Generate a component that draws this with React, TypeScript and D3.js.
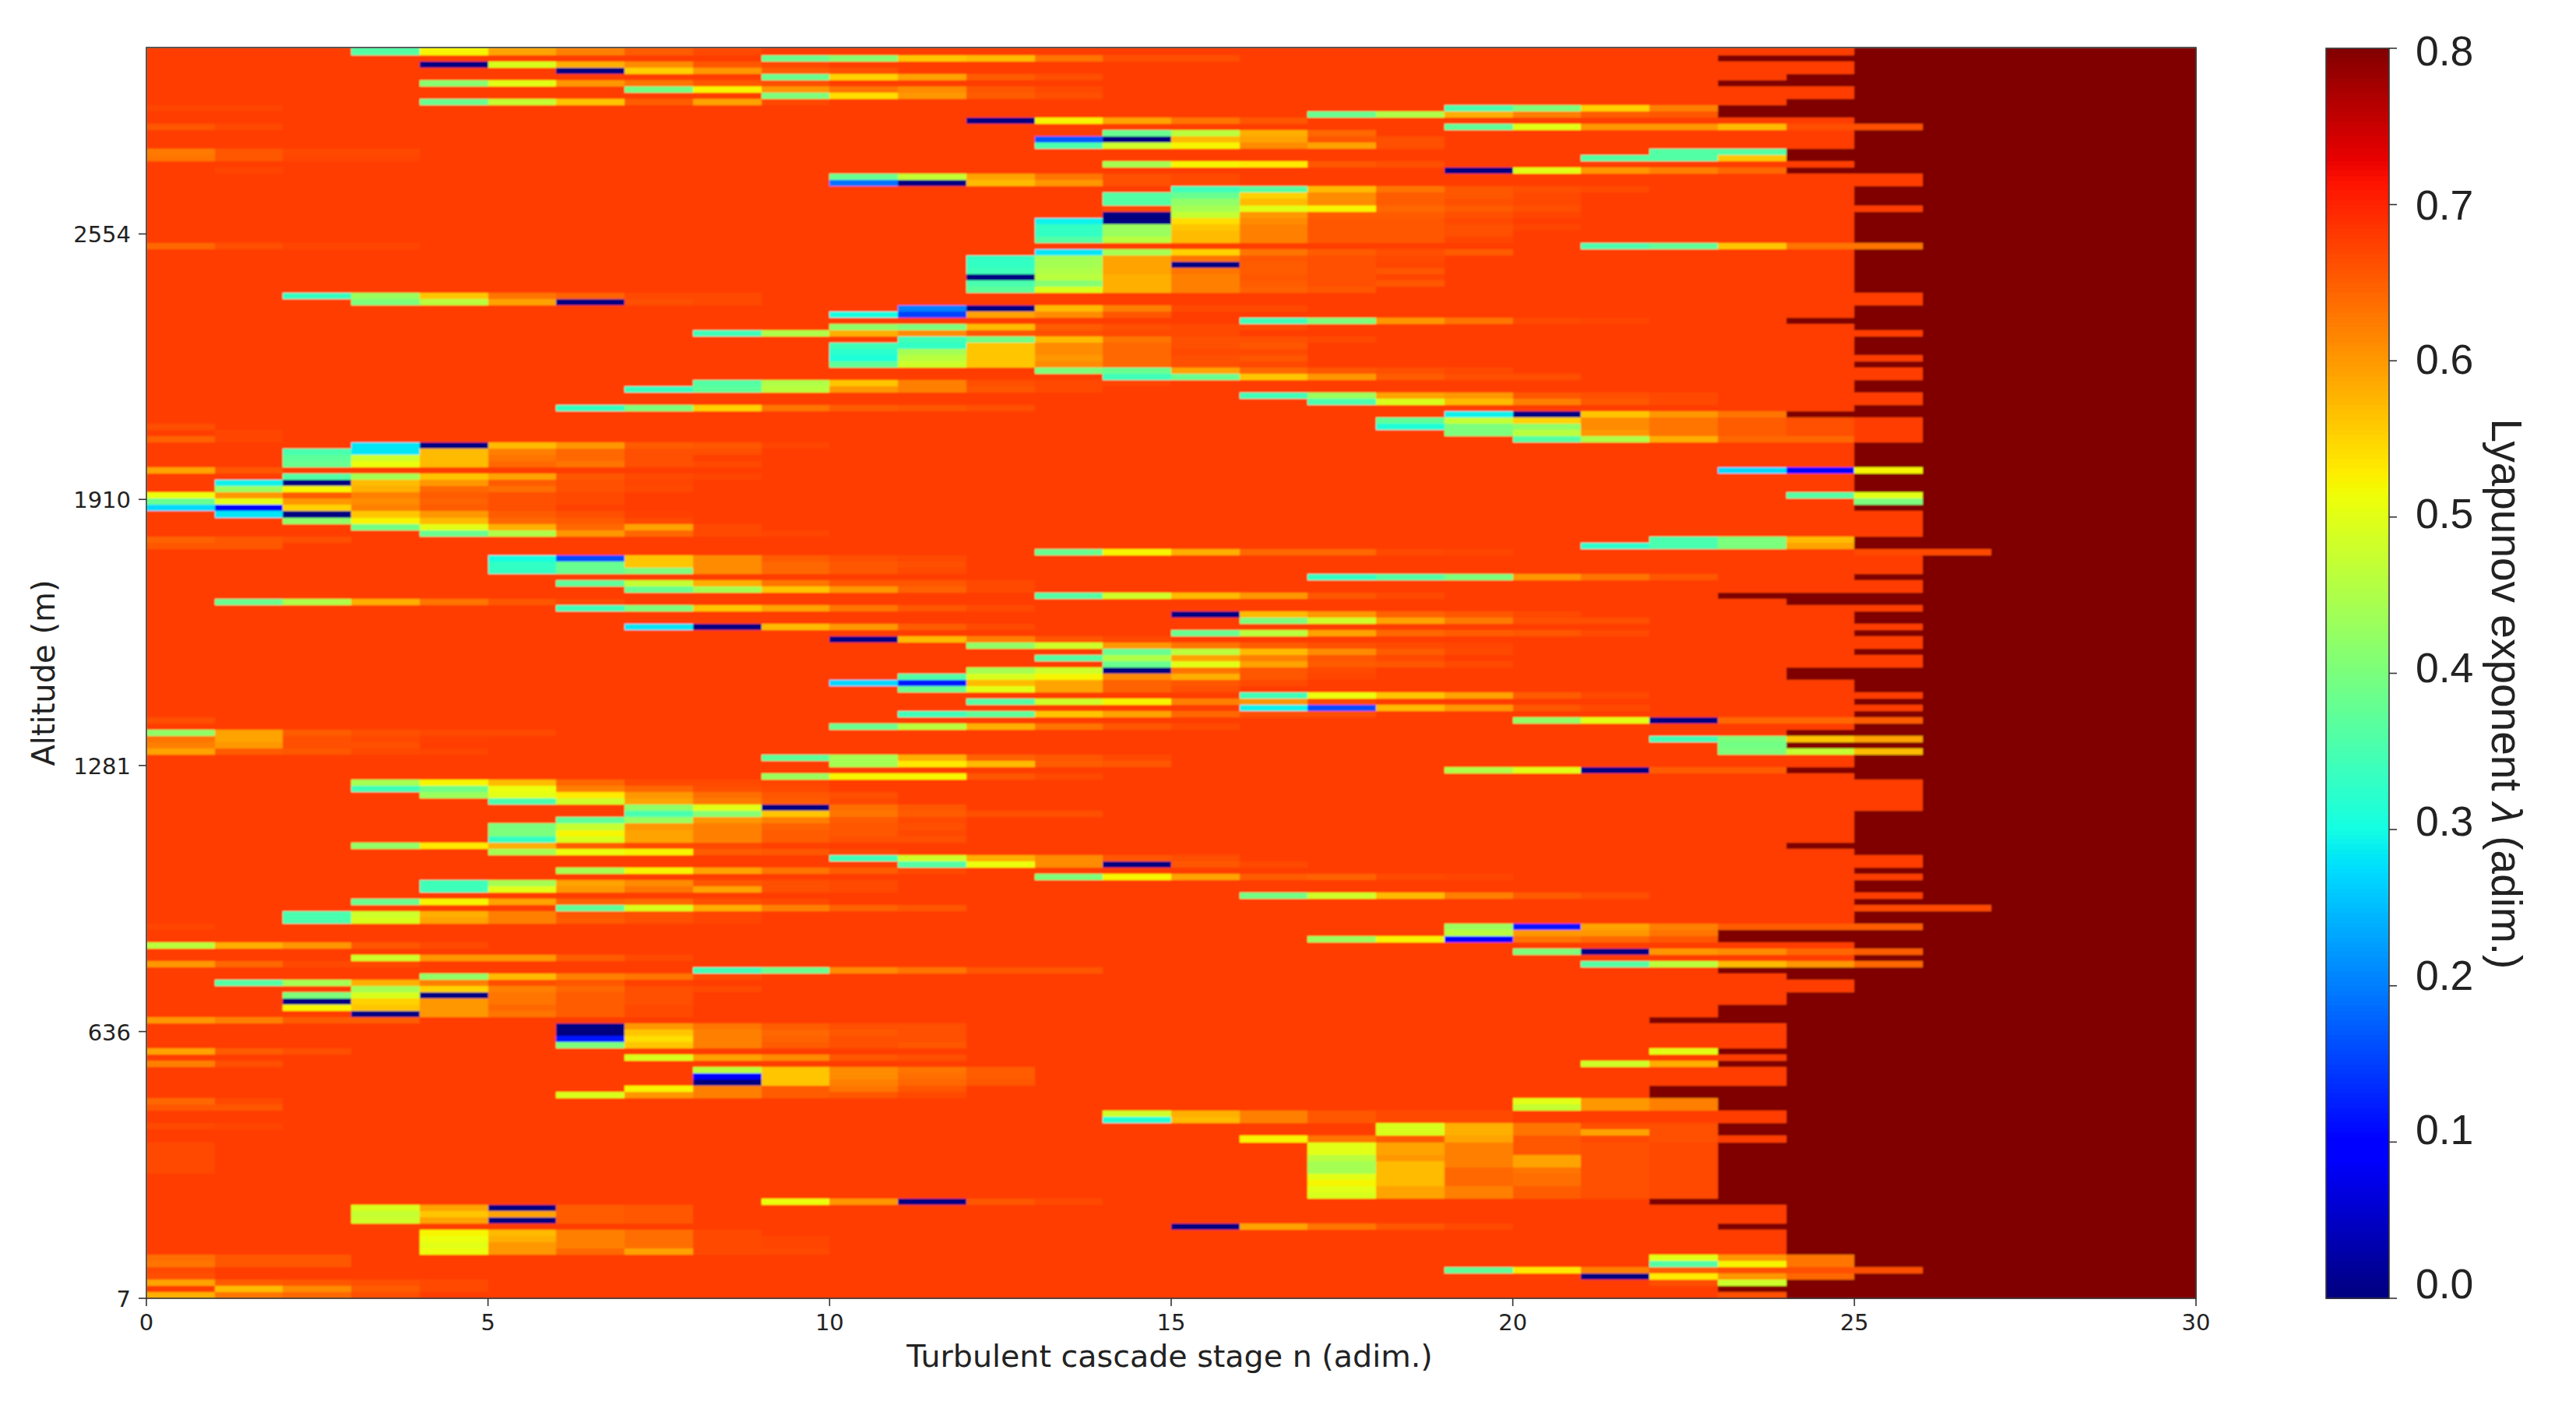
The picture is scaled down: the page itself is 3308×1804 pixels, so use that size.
import React from 'react';
import * as d3 from 'd3';

// lambda values are written in hundredths, 80 is the top of the colour scale
const rowCount = 200;
const colCount = 30;
const calmValue = 67.6;
const deadValue = 80;

// first column of the dark (saturated) block, one entry per row, top row first
const darkFrom = [
  25, 23, 25, 25, 24, 23, 25, 25, 24, 23,
  23, 25, 26, 25, 25, 25, 24, 24, 25, 24,
  26, 26, 25, 25, 25, 26, 25, 25, 25, 25,
  25, 26, 25, 25, 25, 25, 25, 25, 25, 26,
  26, 25, 25, 24, 25, 26, 25, 25, 25, 26,
  25, 26, 26, 25, 25, 26, 26, 25, 24, 26,
  26, 26, 26, 25, 25, 25, 25, 26, 25, 25,
  25, 26, 26, 25, 26, 26, 26, 26, 25, 25,
  27, 26, 26, 26, 25, 26, 26, 23, 24, 26,
  25, 25, 26, 25, 26, 26, 25, 26, 26, 24,
  24, 25, 25, 26, 25, 26, 25, 26, 25, 24,
  26, 24, 26, 25, 25, 24, 25, 26, 26, 26,
  26, 26, 25, 25, 25, 25, 25, 24, 25, 26,
  26, 25, 26, 25, 25, 26, 25, 27, 25, 25,
  26, 23, 23, 25, 26, 25, 26, 23, 24, 25,
  25, 24, 24, 23, 23, 22, 24, 24, 24, 24,
  23, 24, 23, 24, 24, 24, 22, 22, 23, 23,
  24, 24, 23, 23, 24, 23, 23, 23, 23, 23,
  23, 23, 23, 23, 22, 24, 24, 24, 23, 24,
  24, 24, 24, 25, 25, 26, 25, 24, 23, 24,
];

// [row, first column, values...]
const upperStreaks: number[][] = [
  [0, 3, 36, 52, 59, 62, 65, 66.5],
  [1, 9, 38, 41, 56, 57, 63, 66, 66],
  [2, 4, 0, 49, 58, 61, 65.5, 66.5],
  [3, 6, 0, 55, 60, 65, 66],
  [4, 9, 38, 55, 59, 65, 66],
  [5, 4, 41, 50, 60, 63, 65.5, 66],
  [6, 7, 39, 52, 60, 63, 61, 65.5, 66.5],
  [7, 9, 40, 54, 60, 65, 66],
  [8, 4, 38, 47, 56, 65, 59, 66.5],
  [9, 0, 67, 67],
  [9, 19, 35, 40, 55, 62],
  [10, 17, 38, 45, 58, 62, 65, 65.5],
  [11, 12, 0, 52, 59, 63, 65.5],
  [12, 0, 65.5, 66.5],
  [12, 19, 37, 50, 60, 60, 57, 66, 66],
  [13, 14, 38, 46, 58, 64],
  [14, 13, 17, 0, 57, 59, 65.5, 66],
  [15, 13, 35, 48, 52, 61, 59, 66],
  [16, 0, 62.5, 65.5, 66.5, 66.5],
  [16, 22, 36, 36],
  [17, 0, 63, 65.5, 67, 67],
  [17, 21, 36, 36, 56],
  [18, 14, 44, 52, 53, 65.5, 66],
  [19, 1, 67],
  [19, 19, 0, 50, 60, 62, 64],
  [20, 10, 38, 47, 59, 63, 66, 66.5],
  [21, 10, 19, 0, 57, 60, 66, 66.5],
  [22, 15, 34, 36, 57, 63, 65.5, 66, 66.5],
  [23, 14, 36, 38, 55, 61, 65, 65.5, 66.5],
  [24, 14, 36, 42, 57, 61, 65, 66, 66.5],
  [25, 14, 66.5, 44, 50, 52, 64, 65, 66],
  [26, 14, 0, 47, 60, 65, 65, 66, 67],
  [27, 13, 29, 0, 54, 61, 65.5, 65.5, 66.5],
  [28, 13, 33, 43, 56, 62, 65.5, 65.5, 66, 67],
  [29, 13, 33, 43, 57, 62, 65.5, 65.5, 66],
  [30, 13, 36, 46, 57, 62, 65.5, 65.5, 67],
  [31, 0, 64, 66, 67, 67],
  [31, 21, 35, 37, 56, 63, 63],
  [32, 13, 28, 44, 55, 63, 65, 66, 65],
  [33, 12, 33, 44, 59, 63, 65.5, 66, 66.5],
  [34, 12, 33, 44, 59, 0, 65, 66, 67],
  [35, 12, 34, 45, 59, 63, 65, 66, 65.5],
  [36, 12, 0, 46, 58, 62, 65.5, 66, 67],
  [37, 12, 35, 41, 58, 62, 65, 66, 65.5],
  [38, 12, 37, 49, 58, 62, 64.5, 65.5],
  [39, 2, 33, 43, 56, 63, 64.5, 66.5, 66.5],
  [40, 3, 40, 46, 59, 0, 66, 66.5],
  [41, 11, 20, 0, 57, 62, 66.5, 66.5],
  [42, 10, 30, 15, 59, 61, 65.5],
  [43, 16, 34, 40, 60, 63, 66.5, 67],
  [44, 10, 42, 40, 57, 65, 66, 66.5, 66.5],
  [45, 8, 34, 45, 58, 61, 65.5, 66, 66.5, 66.5],
  [46, 11, 34, 39, 57, 63, 66, 66, 66.5],
  [47, 10, 34, 33, 56, 61, 64, 66, 65.5],
  [48, 10, 32, 44, 56, 61, 64, 66.5, 66.5],
  [49, 10, 31, 46, 56, 60, 64, 66, 65.5],
  [50, 10, 37, 48, 56, 61, 64, 66, 66.5],
  [51, 13, 40, 38, 59, 64, 65.5, 66, 66.5],
  [52, 14, 34, 38, 56, 60, 65, 66, 66],
  [53, 8, 36, 45, 56, 62, 66, 66.5, 67],
  [54, 7, 33, 37, 46, 60, 62, 65.5, 66.5],
  [55, 16, 34, 43, 59, 60, 65.5, 66, 66.5],
  [56, 17, 35, 49, 57, 62, 65.5, 66.5],
  [57, 6, 33, 40, 55, 63, 65, 65.5, 66],
  [58, 19, 29, 0, 56, 60, 63],
  [59, 18, 37, 47, 55, 61, 63, 65, 66],
  [60, 0, 66],
  [60, 18, 31, 40, 42, 61, 63, 65, 66],
  [61, 1, 67],
  [61, 19, 40, 46, 60, 63, 65, 66],
  [62, 0, 64.5, 67],
  [62, 20, 36, 45, 58, 64, 64],
  [63, 3, 28, 0, 57, 60, 65, 65.5, 67],
  [64, 2, 35, 28, 57, 62, 64, 66, 66],
  [65, 2, 37, 48, 57, 63, 64, 66, 67.5],
  [66, 2, 38, 51, 57, 64, 63, 66, 66.5],
  [67, 0, 59, 65.5],
  [67, 23, 27, 9, 52],
  [68, 2, 36, 44, 56, 59, 65.5, 66.5, 67],
  [69, 1, 29, 0, 57, 60, 65, 66, 67],
  [70, 1, 43, 52, 58, 64, 63.5, 66, 66.5],
  [71, 0, 51, 60, 65, 62, 65, 66, 66.5],
  [71, 24, 36, 50],
  [72, 0, 38, 50, 60, 61, 64.5, 66, 66.5],
  [72, 25, 40],
  [73, 0, 27, 9, 55, 62, 65, 66, 67.5],
  [74, 1, 28, 0, 56, 60, 65, 66, 67.5],
  [75, 2, 42, 52, 57, 64, 65, 66.5],
  [76, 3, 39, 50, 58, 64, 59, 66.5],
  [77, 4, 38, 45, 60, 64, 66.5, 67],
  [78, 0, 64.5, 65.5, 66],
  [78, 22, 35, 40, 57],
  [79, 0, 65.5, 65.5],
  [79, 21, 32, 35, 40, 59],
  [80, 13, 38, 52, 58, 64, 64, 66.5, 67],
  [80, 25, 66.5, 66.5],
  [81, 5, 30, 16, 56, 61, 65, 66, 66.5],
  [82, 5, 33, 38, 56, 61, 64, 65.5, 66],
  [83, 5, 33, 38, 40, 61, 64, 65.5, 66.5],
  [84, 17, 33, 36, 40, 60, 63, 65.5],
  [85, 6, 37, 47, 58, 63, 65.5, 65.5, 66.5],
  [86, 7, 38, 44, 56, 60, 64.5, 66.5],
  [87, 13, 36, 48, 57, 60, 65.5, 66.5],
  [88, 1, 38, 45, 58, 63, 65.5, 66.5],
  [89, 6, 34, 40, 56, 59, 63, 65.5, 66.5],
  [90, 15, 0, 57, 60, 64.5, 65.5, 66.5],
  [91, 16, 40, 48, 59, 62.5, 66, 66],
  [92, 7, 28, 0, 57, 60, 65, 66.5],
  [93, 15, 38, 46, 59, 64, 65, 65.5, 66.5],
  [94, 10, 0, 57, 62, 65.5, 66.5],
  [95, 12, 42, 48, 60, 63, 65, 66, 66.5, 67],
  [96, 14, 38, 46, 57, 61, 65, 66.5],
  [97, 13, 36, 45, 59, 62, 65.5, 66.5],
  [98, 14, 38, 50, 59, 65, 65.5, 66.5],
  [99, 12, 44, 48, 0, 63, 65.5, 66.5],
  [100, 11, 36, 49, 52, 61, 58, 65.5, 67],
];

const lowerStreaks: number[][] = [
  [101, 10, 27, 12, 57, 59, 64.5, 65.5, 66.5],
  [102, 11, 38, 50, 59, 64.5, 66],
  [103, 16, 34, 51, 56, 59, 65, 66.5],
  [104, 12, 36, 48, 52, 62, 60, 66.5],
  [105, 16, 29, 16, 57, 60, 65.5, 66.5],
  [106, 11, 34, 37, 56, 59, 64, 66, 66],
  [107, 0, 66],
  [107, 20, 42, 50, 0, 64, 64, 65],
  [108, 10, 38, 46, 58, 63, 65.5, 66.5],
  [109, 0, 42, 59, 65, 66, 66.5, 66.5],
  [110, 0, 63, 59, 66, 66.5, 67.5],
  [110, 22, 34, 40, 56, 59],
  [111, 0, 62, 60, 66, 66],
  [111, 23, 39],
  [112, 0, 59, 65, 65.5, 66.5, 67],
  [112, 23, 40, 47, 57],
  [113, 9, 37, 44, 58, 64.5, 65.5, 66.5],
  [114, 10, 44, 53, 57, 65, 65.5],
  [115, 19, 45, 50, 0, 65, 65],
  [116, 9, 43, 52, 52, 65.5, 66.5],
  [117, 3, 44, 52, 57, 64, 66.5, 66.5, 67],
  [118, 3, 34, 39, 51, 62, 64, 66, 66.5],
  [119, 4, 43, 50, 53, 60, 63.5, 65.5, 66],
  [120, 5, 35, 48, 59, 62.5, 65, 66.5],
  [121, 7, 42, 50, 0, 63.5, 65.5],
  [122, 7, 35, 41, 56, 63, 65, 66, 66],
  [123, 6, 37, 43, 60, 62, 65, 66.5],
  [124, 5, 40, 47, 60, 62, 64.5, 65.5, 66],
  [125, 5, 40, 52, 59, 62, 65, 65.5, 66.5],
  [126, 5, 33, 49, 59, 62, 65, 66, 66],
  [127, 3, 42, 53, 58, 65, 66.5, 66.5, 67.5],
  [128, 5, 44, 51, 52, 65, 65.5, 66.5],
  [129, 10, 34, 48, 58, 61, 65.5, 66],
  [130, 11, 36, 51, 61, 0, 65.5, 66.5],
  [131, 6, 44, 52, 59, 63, 65, 66.5],
  [132, 13, 40, 52, 59, 65, 64.5, 66.5, 67],
  [133, 4, 34, 44, 59, 61, 65.5, 66, 66.5],
  [134, 4, 34, 50, 60, 63, 59, 66, 66.5],
  [135, 16, 39, 48, 57, 62, 65, 66],
  [136, 3, 38, 52, 59, 64.5, 64, 66, 66.5],
  [137, 6, 37, 49, 58, 62, 64.5, 65.5],
  [137, 25, 66.5, 66.5],
  [138, 2, 35, 48, 58, 62, 65.5, 66, 67],
  [139, 2, 35, 49, 59, 62, 65, 66, 67],
  [140, 0, 67],
  [140, 19, 43, 12, 59, 62, 65, 65, 65],
  [141, 19, 46, 60, 60, 63],
  [142, 17, 43, 52, 9, 63, 64, 65.5],
  [143, 0, 46, 58, 60, 65.5, 66.5],
  [144, 20, 40, 0, 60, 61, 64, 65],
  [145, 3, 48, 60, 60, 65, 66.5],
  [146, 0, 60, 64, 66.5, 66.5],
  [146, 21, 36, 46, 57, 60, 64],
  [147, 8, 34, 38, 61, 63, 65.5, 65.5],
  [148, 4, 42, 57, 62, 63, 66.5],
  [149, 1, 36, 44, 58, 62, 66, 65.5, 67.5],
  [150, 3, 44, 55, 62, 64, 66, 66.5],
  [151, 2, 40, 49, 0, 63, 65, 66],
  [152, 2, 0, 55, 60, 63, 65, 66],
  [153, 2, 52, 56, 60, 64, 65, 66.5],
  [154, 3, 0, 60, 63, 65, 66.5],
  [155, 0, 60, 62, 65, 65],
  [156, 6, 0, 60, 63, 65, 66, 66],
  [157, 6, 0, 56, 62, 64, 65.5, 66],
  [158, 6, 12, 54, 62, 64.5, 66, 66],
  [159, 6, 40, 56, 62, 65, 66, 65.5],
  [160, 0, 59, 65, 66],
  [160, 22, 50],
  [161, 7, 49, 59, 61, 65.5, 66],
  [162, 0, 62, 66],
  [162, 21, 48, 58],
  [163, 8, 46, 56, 61, 63, 65],
  [164, 8, 10, 56, 61, 63.5, 65],
  [165, 8, 0, 56, 62, 64, 65.5],
  [166, 7, 52, 62, 65, 63, 65.5],
  [167, 6, 49, 60, 62, 65, 65.5, 66.5],
  [168, 0, 64, 66.5],
  [168, 20, 50, 60, 62],
  [169, 0, 65.5, 65.5],
  [169, 20, 47, 60, 62],
  [170, 14, 48, 58, 62, 65.5, 66.5, 66.5],
  [171, 14, 31, 57, 62, 65.5, 66.5, 66.5],
  [172, 0, 66.5, 67],
  [172, 18, 49, 58, 63, 66, 66],
  [173, 18, 49, 58, 63, 59, 66],
  [174, 16, 52, 63, 65, 59, 65.5, 66.5, 66],
  [175, 0, 66.5],
  [175, 17, 50, 59, 62, 65.5, 66, 66.5],
  [176, 0, 66.5],
  [176, 17, 50, 59, 62, 65.5, 66, 66.5],
  [177, 0, 66.5],
  [177, 17, 46, 60, 62, 59, 66, 66.5],
  [178, 0, 66.5],
  [178, 17, 44, 57, 62, 59, 66, 66.5],
  [179, 0, 66.5],
  [179, 17, 44, 57, 64, 63, 66, 66.5],
  [180, 17, 50, 57, 64, 63.5, 66, 66.5],
  [181, 17, 52, 57, 64, 63.5, 66, 66.5],
  [182, 17, 50, 59, 62, 65, 66, 66.5],
  [183, 17, 49, 59, 62, 65, 66, 66.5],
  [184, 9, 51, 60, 0, 65.5, 66.5],
  [185, 3, 49, 59, 0, 65, 65.5],
  [186, 3, 47, 56, 59, 65, 65.5],
  [187, 3, 48, 59, 0, 65, 65.5],
  [188, 15, 0, 59, 63, 65.5, 66.5],
  [189, 4, 52, 57, 62, 63.5, 66.5],
  [190, 4, 51, 58, 62, 63.5, 66.5, 67],
  [191, 4, 50, 60, 62, 63.5, 66.5, 67],
  [192, 4, 51, 60, 64, 59, 66.5, 66.5],
  [193, 0, 63.5, 65.5, 65.5],
  [193, 22, 50, 60, 63],
  [194, 0, 63, 65.5, 65.5],
  [194, 22, 36, 52, 63],
  [195, 0, 66.5],
  [195, 19, 37, 53, 62, 65, 66, 66, 66],
  [196, 0, 66],
  [196, 21, 0, 53, 60, 64],
  [197, 0, 59, 65, 65.5, 66, 66.5],
  [197, 22, 66, 48],
  [198, 1, 57, 61, 65, 66.5],
  [199, 0, 58, 63, 64, 66],
  [199, 23, 66],
];

const xTickValues = [0, 5, 10, 15, 20, 25, 30];
const altitudeLabels = ['7', '636', '1281', '1910', '2554'];
const altitudeTickRows = [200, 157.3, 114.7, 72.1, 29.6];
const barTicks = [0, 0.1, 0.2, 0.3, 0.4, 0.5, 0.6, 0.7, 0.8];

// matplotlib's jet, channel by channel
const jetR = d3.scaleLinear().domain([0, 0.35, 0.66, 0.89, 1]).range([0, 0, 1, 1, 0.5]).clamp(true);
const jetG = d3.scaleLinear().domain([0, 0.125, 0.375, 0.64, 0.91, 1]).range([0, 0, 1, 1, 0, 0]).clamp(true);
const jetB = d3.scaleLinear().domain([0, 0.11, 0.34, 0.65, 1]).range([0.5, 1, 1, 0, 0]).clamp(true);
const jet = (t: number) =>
  d3.rgb(jetR(t) * 255, jetG(t) * 255, jetB(t) * 255).formatHex();

const left = 188;
const right = 2820;
const top = 61;
const bottom = 1667;
const barLeft = 2987;
const barRight = 3068;

const x = d3.scaleLinear().domain([0, colCount]).range([left, right]);
const y = d3.scaleLinear().domain([-0.25, rowCount]).range([top, bottom]);
const barY = d3.scaleLinear().domain([0, 0.8]).range([bottom, top + 1]);
// the printed colorbar labels sit a little tighter than their ticks
const barLabelY = d3.scaleLinear().domain([0, 0.8]).range([1648, 65]);
const color = (v: number) => jet(v / 0.8);

function buildGrid() {
  const grid = d3.range(rowCount).map((r) =>
    d3.range(colCount).map((c) => (c < darkFrom[r] ? calmValue : deadValue))
  );
  [...upperStreaks, ...lowerStreaks].forEach(([row, col, ...vals]) => {
    vals.forEach((v, i) => {
      grid[row][col + i] = v;
    });
  });
  return grid;
}

const sansText = '"DejaVu Sans", sans-serif';
const barText = '"Liberation Sans", Arial, sans-serif';

export default function App() {
  const grid = buildGrid();
  const barSteps = d3.range(0, 256);
  return (
    <svg
      width={3308}
      height={1804}
      style={{ position: 'absolute', left: 0, top: 0, display: 'block', background: '#fff' }}
    >
      <defs>
        <filter id="soft" x="0" y="0" width="1" height="1">
          <feGaussianBlur stdDeviation="0.9" />
        </filter>
      </defs>
      <g filter="url(#soft)">
        {grid.map((cells, r) =>
          cells.map((v, c) => (
            <rect
              key={r + '-' + c}
              x={x(c)}
              y={r === 0 ? top : y(r)}
              width={x(c + 1) - x(c) + 0.5}
              height={(r === 0 ? y(1) - top : y(r + 1) - y(r)) + 0.5}
              fill={color(v / 100)}
              shapeRendering="crispEdges"
            />
          ))
        )}
      </g>
      <rect x={left} y={top} width={right - left} height={bottom - top} fill="none" stroke="#3a3a3a" strokeWidth={1.6} />

      {xTickValues.map((t) => (
        <g key={t}>
          <line x1={x(t)} x2={x(t)} y1={bottom} y2={bottom + 10} stroke="#333" strokeWidth={1.6} />
          <text x={x(t)} y={1708} textAnchor="middle" fontFamily={sansText} fontSize={29} fill="#222">
            {t}
          </text>
        </g>
      ))}
      {altitudeTickRows.map((row, i) => (
        <g key={row}>
          <line x1={left - 10} x2={left} y1={y(row)} y2={y(row)} stroke="#333" strokeWidth={1.6} />
          <text x={168} y={y(row) + 11} textAnchor="end" fontFamily={sansText} fontSize={29} fill="#222">
            {altitudeLabels[i]}
          </text>
        </g>
      ))}
      <text x={1502} y={1755} textAnchor="middle" fontFamily={sansText} fontSize={39.6} fill="#222">
        Turbulent cascade stage n (adim.)
      </text>
      <text
        transform="translate(70,864) rotate(-90)"
        textAnchor="middle"
        fontFamily={sansText}
        fontSize={40}
        fill="#222"
      >
        Altitude (m)
      </text>

      {barSteps.map((s) => {
        const v0 = (s / 256) * 0.8;
        const v1 = ((s + 1) / 256) * 0.8;
        return (
          <rect
            key={s}
            x={barLeft}
            y={barY(v1)}
            width={barRight - barLeft}
            height={barY(v0) - barY(v1) + 0.5}
            fill={color(v0)}
            shapeRendering="crispEdges"
          />
        );
      })}
      <rect
        x={barLeft}
        y={barY(0.8)}
        width={barRight - barLeft}
        height={barY(0) - barY(0.8)}
        fill="none"
        stroke="#3a3a3a"
        strokeWidth={1.6}
      />
      {barTicks.map((t) => (
        <g key={t}>
          <line x1={barRight} x2={barRight + 10} y1={barY(t)} y2={barY(t)} stroke="#333" strokeWidth={1.6} />
          <text x={3102} y={barLabelY(t) + 19} fontFamily={barText} fontSize={53.5} fill="#222">
            {t.toFixed(1)}
          </text>
        </g>
      ))}
      <text
        transform="translate(3200,891) rotate(90)"
        textAnchor="middle"
        fontFamily={barText}
        fontSize={55}
        fill="#222"
      >
        Lyapunov exponent <tspan fontStyle="italic">λ</tspan> (adim.)
      </text>
    </svg>
  );
}
